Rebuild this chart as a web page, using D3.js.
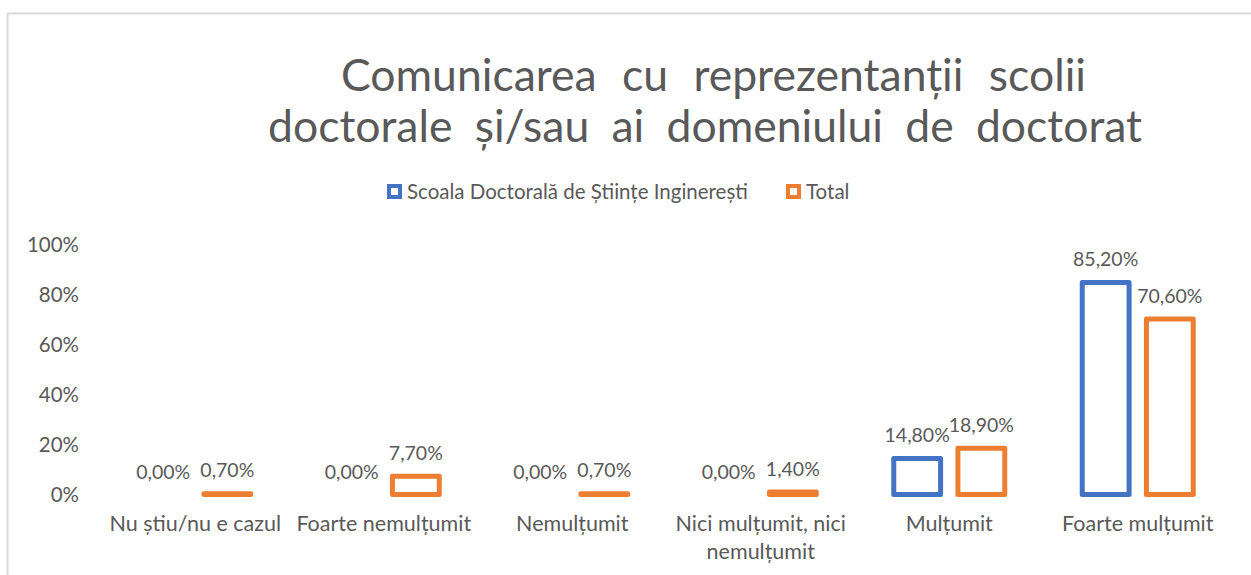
<!DOCTYPE html>
<html>
<head>
<meta charset="utf-8">
<script src="https://cdn.jsdelivr.net/npm/d3@7"></script>
<style>
  body { margin: 0; background: #fff; }
  svg text { font-family: Lato, "Noto Sans", sans-serif; fill: #595959; }
</style>
</head>
<body>
<div class="chart"></div>
<script>
const w = 1251;
const h = 575;

// data
let categories = ["Nu știu/nu e cazul", "Foarte nemulțumit", "Nemulțumit",
                  "Nici mulțumit, nici nemulțumit", "Mulțumit", "Foarte mulțumit"];
let seriesNames = ["Scoala Doctorală de Științe Inginerești", "Total"];
let scoala = [0, 0, 0, 0, 14.8, 85.2];
let total = [0.7, 7.7, 0.7, 1.4, 18.9, 70.6];
let yTicks = [0, 20, 40, 60, 80, 100];
let titleLines = ["Comunicarea cu reprezentanții scolii",
                  "doctorale și/sau ai domeniului de doctorat"];

const colors = ["#4472C4", "#ED7D31"];

let svg = d3.select(".chart")
    .append("svg")
    .attr("width", w)
    .attr("height", h);

// chart area border (only top and left visible in the crop)
svg.append("path")
    .attr("d", "M7.5," + h + "V13.5H" + w)
    .attr("fill", "none")
    .attr("stroke", "#D9D9D9")
    .attr("stroke-width", 2);

// title, justified lines
let titleSpan = [[341, 1086], [268, 1142]];
titleLines.forEach((line, i) => {
    let t = svg.append("text")
        .attr("x", titleSpan[i][0])
        .attr("y", 91 + i * 51)
        .style("font-size", "44.5px")
        .text(line);
    let natural = t.node().getComputedTextLength();
    let gaps = line.split(" ").length - 1;
    let extra = (titleSpan[i][1] - titleSpan[i][0] - natural) / gaps;
    t.style("word-spacing", extra + "px");
});

let x0 = d3.scaleBand()
    .domain(categories)
    .range([101, 1232]);

let x1 = d3.scaleBand()
    .domain([0, 1])
    .range([x0.bandwidth() / 2 - 55.5, x0.bandwidth() / 2 + 55.5])
    .paddingInner(0.27);

let y = d3.scaleLinear()
    .domain([0, 100])
    .range([495, 245]);

// y axis
let yAxis = svg.append("g")
    .attr("transform", "translate(79,0)")
    .call(d3.axisLeft(y).tickValues(yTicks).tickSize(0).tickPadding(0)
        .tickFormat(d => d + "%"));
yAxis.select(".domain").remove();
yAxis.selectAll("text")
    .attr("fill", "#595959")
    .style("font-size", "20.5px")
    .style("font-family", "Lato, 'Noto Sans', sans-serif");

// x axis labels
let xAxis = svg.append("g")
    .attr("transform", "translate(0,495)")
    .call(d3.axisBottom(x0).tickSize(0).tickPadding(0));
xAxis.select(".domain").remove();
xAxis.selectAll("text")
    .attr("fill", "#595959")
    .attr("y", 36)
    .attr("dy", 0)
    .style("font-size", "21.5px")
    .style("font-family", "Lato, 'Noto Sans', sans-serif")
    .call(wrap, 186);

function wrap(texts, width) {
    texts.each(function() {
        let text = d3.select(this);
        let words = text.text().split(" ");
        let line = [];
        let lineNo = 0;
        let yy = text.attr("y");
        let tspan = text.text(null).append("tspan").attr("x", 0).attr("y", yy);
        words.forEach(word => {
            line.push(word);
            tspan.text(line.join(" "));
            if (tspan.node().getComputedTextLength() > width && line.length > 1) {
                line.pop();
                tspan.text(line.join(" "));
                line = [word];
                lineNo++;
                tspan = text.append("tspan").attr("x", 0).attr("y", +yy + lineNo * 28).text(word);
            }
        });
    });
}

let rows = categories.map((c, i) => ({cat: c, vals: [scoala[i], total[i]]}));

let groups = svg.selectAll(".grp")
    .data(rows)
    .enter()
    .append("g")
    .attr("class", "grp")
    .attr("transform", d => "translate(" + x0(d.cat) + ",0)");

// bars (zero values are not drawn, like the original)
groups.selectAll("rect")
    .data(d => d.vals.map((v, k) => ({v: v, k: k})).filter(e => e.v > 0))
    .enter()
    .append("rect")
    .attr("x", d => x1(d.k))
    .attr("width", x1.bandwidth())
    .attr("y", d => y(d.v) + 0.5)
    .attr("height", d => Math.max(y(0) - y(d.v) - 1, 0.5))
    .attr("fill", "#fff")
    .attr("stroke", d => colors[d.k])
    .attr("stroke-width", 5)
    .attr("stroke-linejoin", "round");

// data labels
groups.selectAll(".lbl")
    .data(d => d.vals.map((v, k) => ({v: v, k: k})))
    .enter()
    .append("text")
    .attr("class", "lbl")
    .attr("x", d => x1(d.k) + x1.bandwidth() / 2)
    .attr("y", d => y(d.v) - 16)
    .attr("text-anchor", "middle")
    .style("font-size", "19.5px")
    .text(d => d.v.toFixed(2).replace(".", ",") + "%");

// legend
let legend = svg.append("g").attr("transform", "translate(387,184)");
let legX = [0, 399];
seriesNames.forEach((name, i) => {
    let g = legend.append("g").attr("transform", "translate(" + legX[i] + ",0)");
    g.append("rect")
        .attr("x", 2).attr("y", 2)
        .attr("width", 11).attr("height", 11)
        .attr("fill", "#fff")
        .attr("stroke", colors[i])
        .attr("stroke-width", 4);
    g.append("text")
        .attr("x", 20)
        .attr("y", 15)
        .style("font-size", "20.5px")
        .text(name);
});
</script>
</body>
</html>
